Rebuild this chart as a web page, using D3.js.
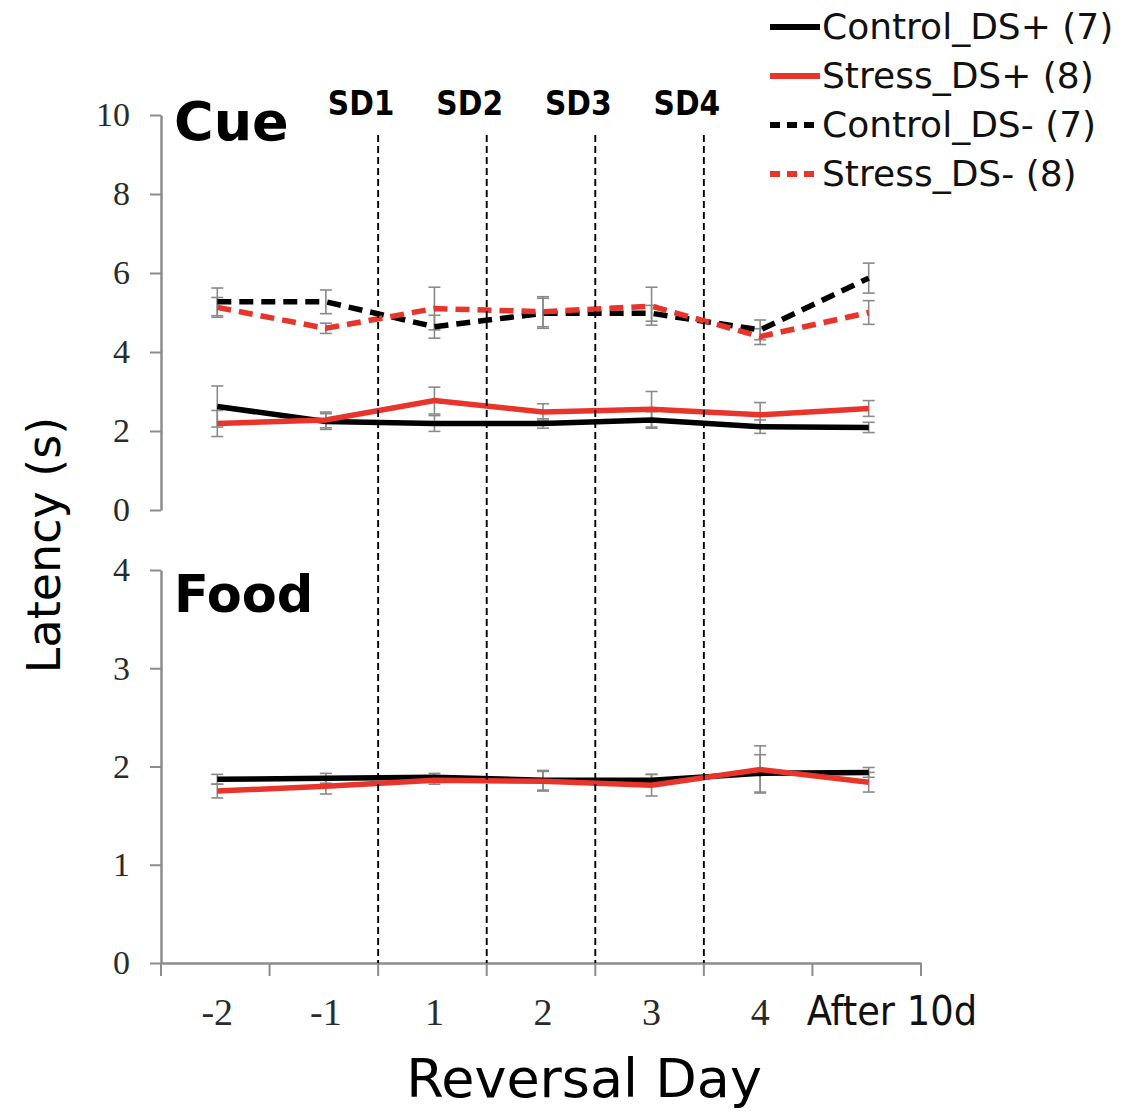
<!DOCTYPE html>
<html>
<head>
<meta charset="utf-8">
<script src="https://d3js.org/d3.v7.min.js"></script>
<style>
    body { margin:0; background:#fff; }
    .tick text { font-family:"Liberation Serif", serif; fill:#2a2a2a; }
</style>
</head>
<body>
<svg id="chart"></svg>
<script>
// reversal days on the x axis
var days = ["-2", "-1", "1", "2", "3", "4", "After 10d"];
var shiftDays = ["SD1", "SD2", "SD3", "SD4"];
var cueTicks = [0, 2, 4, 6, 8, 10];
var foodTicks = [0, 1, 2, 3, 4];

// Cue panel, mean latency and SEM
var cueControlPlus    = [2.62, 2.24, 2.19, 2.19, 2.28, 2.11, 2.09];
var cueControlPlusErr = [0.52, 0.20, 0.20, 0.12, 0.21, 0.17, 0.13];
var cueStressPlus     = [2.19, 2.28, 2.77, 2.48, 2.55, 2.41, 2.57];
var cueStressPlusErr  = [0.33, 0.20, 0.34, 0.21, 0.45, 0.31, 0.20];
var cueControlMinus    = [5.27, 5.27, 4.64, 4.98, 4.98, 4.56, 5.87];
var cueControlMinusErr = [0.35, 0.30, 0.29, 0.38, 0.20, 0.25, 0.38];
var cueStressMinus     = [5.13, 4.60, 5.10, 5.02, 5.16, 4.39, 5.00];
var cueStressMinusErr  = [0.25, 0.13, 0.54, 0.38, 0.48, 0.20, 0.30];

// Food panel
var foodControl    = [1.87, 1.88, 1.89, 1.86, 1.86, 1.93, 1.94];
var foodControlErr = [0.05, 0.05, 0.04, 0.10, 0.06, 0.19, 0.05];
var foodStress     = [1.75, 1.80, 1.86, 1.85, 1.81, 1.97, 1.84];
var foodStressErr  = [0.07, 0.08, 0.04, 0.10, 0.11, 0.24, 0.10];

var legendNames = ["Control_DS+ (7)", "Stress_DS+ (8)", "Control_DS- (7)", "Stress_DS- (8)"];

var red = "#e8352c";
var errGray = "#8a8a8a";
var axisGray = "#8c8c8c";

var screen = {width:1123, height:1111};
var svg = d3.select("#chart")
    .attr("width", screen.width)
    .attr("height", screen.height);

var xScale = d3.scaleBand()
    .domain(days)
    .range([161, 921]);
var xMid = function(d) { return xScale(d) + xScale.bandwidth() / 2 + 2; };

var cueY = d3.scaleLinear().domain([0, 10]).range([510, 115]);
var foodY = d3.scaleLinear().domain([0, 4]).range([963, 570]);

var cueSeries = [
    {vals:cueControlMinus, err:cueControlMinusErr, color:"#000", dash:"14,8"},
    {vals:cueStressMinus, err:cueStressMinusErr, color:red, dash:"14,8"},
    {vals:cueControlPlus, err:cueControlPlusErr, color:"#000", dash:null},
    {vals:cueStressPlus, err:cueStressPlusErr, color:red, dash:null}
];
var foodSeries = [
    {vals:foodControl, err:foodControlErr, color:"#000", dash:null},
    {vals:foodStress, err:foodStressErr, color:red, dash:null}
];

var drawPanel = function(series, yScale, ticks)
{
    var g = svg.append("g");
    // y axis
    var yAxis = d3.axisLeft(yScale)
        .tickValues(ticks)
        .tickFormat(d3.format("d"))
        .tickSize(11)
        .tickSizeOuter(0)
        .tickPadding(20);
    var ag = g.append("g")
        .attr("transform", "translate(161,0)")
        .call(yAxis);
    ag.select(".domain").attr("stroke", axisGray).attr("stroke-width", 2.5);
    ag.selectAll(".tick line").attr("stroke", axisGray).attr("stroke-width", 2);
    ag.selectAll(".tick text").attr("font-size", 34);

    // error bars
    series.forEach(function(s)
    {
        var eb = g.append("g");
        days.forEach(function(d, i)
        {
            var cx = xMid(d);
            var y0 = yScale(s.vals[i] - s.err[i]);
            var y1 = yScale(s.vals[i] + s.err[i]);
            eb.append("line").attr("x1", cx).attr("x2", cx).attr("y1", y0).attr("y2", y1)
                .attr("stroke", errGray).attr("stroke-width", 1.6);
            [y0, y1].forEach(function(yy)
            {
                eb.append("line").attr("x1", cx - 6).attr("x2", cx + 6).attr("y1", yy).attr("y2", yy)
                    .attr("stroke", errGray).attr("stroke-width", 1.6);
            });
        });
    });

    // lines
    var line = d3.line()
        .x(function(v, i) { return xMid(days[i]); })
        .y(function(v) { return yScale(v); });
    series.forEach(function(s)
    {
        g.append("path")
            .attr("d", line(s.vals))
            .attr("fill", "none")
            .attr("stroke", s.color)
            .attr("stroke-width", 5.5)
            .attr("stroke-dasharray", s.dash);
    });
};

drawPanel(cueSeries, cueY, cueTicks);
drawPanel(foodSeries, foodY, foodTicks);

// x axis
var xAxis = d3.axisBottom(xScale)
    .tickValues([])
    .tickSizeOuter(0);
var xg = svg.append("g")
    .attr("transform", "translate(0,963)")
    .call(xAxis);
xg.select(".domain").attr("stroke", axisGray).attr("stroke-width", 2.5);
var boundaries = days.map(function(d) { return xScale(d); }).concat([xScale.range()[1]]);
xg.selectAll(".xtick")
    .data(boundaries)
    .enter()
    .append("line")
    .attr("x1", function(d) { return d; })
    .attr("x2", function(d) { return d; })
    .attr("y1", 0)
    .attr("y2", 13)
    .attr("stroke", axisGray)
    .attr("stroke-width", 2);
var isLast = function(i) { return i == days.length - 1; };
xg.selectAll(".xlab")
    .data(days)
    .enter()
    .append("text")
    .attr("x", function(d, i) { return isLast(i) ? xMid(d) - 62 : xMid(d); })
    .attr("y", 62)
    .attr("text-anchor", function(d, i) { return isLast(i) ? "start" : "middle"; })
    .attr("font-family", function(d, i) { return isLast(i) ? "'DejaVu Sans Condensed', sans-serif" : "'Liberation Serif', serif"; })
    .attr("font-size", function(d, i) { return isLast(i) ? 41 : 38; })
    .attr("fill", function(d, i) { return isLast(i) ? "#111" : "#2a2a2a"; })
    .text(function(d) { return d; });

// shift-day dashed separators
var sdX = days.slice(2, 6).map(function(d) { return xScale(d); });
svg.selectAll(".sdline")
    .data(sdX)
    .enter()
    .append("line")
    .attr("x1", function(d) { return d; })
    .attr("x2", function(d) { return d; })
    .attr("y1", 135)
    .attr("y2", 963)
    .attr("stroke", "#000")
    .attr("stroke-width", 1.9)
    .attr("stroke-dasharray", "7,4");
svg.selectAll(".sdlab")
    .data(shiftDays)
    .enter()
    .append("text")
    .attr("x", function(d, i) { return sdX[i] - 17; })
    .attr("y", 115)
    .attr("text-anchor", "middle")
    .attr("font-family", "'DejaVu Sans Condensed', sans-serif")
    .attr("font-weight", "bold")
    .attr("font-size", 33)
    .text(function(d) { return d; });

// panel titles
svg.append("text").attr("x", 174).attr("y", 140)
    .attr("font-family", "'DejaVu Sans', sans-serif").attr("font-weight", "bold")
    .attr("font-size", 54).text("Cue");
svg.append("text").attr("x", 174).attr("y", 612)
    .attr("font-family", "'DejaVu Sans', sans-serif").attr("font-weight", "bold")
    .attr("font-size", 51).text("Food");

// axis titles
svg.append("text")
    .attr("transform", "translate(60,545) rotate(-90)")
    .attr("text-anchor", "middle")
    .attr("font-family", "'DejaVu Sans', sans-serif")
    .attr("font-size", 46)
    .text("Latency (s)");
svg.append("text")
    .attr("x", 584).attr("y", 1097)
    .attr("text-anchor", "middle")
    .attr("font-family", "'DejaVu Sans', sans-serif")
    .attr("font-size", 54)
    .text("Reversal Day");

// legend
var legendStyle = [
    {color:"#000", dash:null},
    {color:red, dash:null},
    {color:"#000", dash:"10,7"},
    {color:red, dash:"10,7"}
];
var lg = svg.append("g").attr("transform", "translate(770,27)");
legendNames.forEach(function(name, i)
{
    var yy = i * 49;
    lg.append("line")
        .attr("x1", 0).attr("x2", 50).attr("y1", yy).attr("y2", yy)
        .attr("stroke", legendStyle[i].color)
        .attr("stroke-width", 6)
        .attr("stroke-dasharray", legendStyle[i].dash);
    lg.append("text")
        .attr("x", 52).attr("y", yy + 12)
        .attr("font-family", "'DejaVu Sans', sans-serif")
        .attr("font-size", 36)
        .attr("fill", "#111")
        .text(name);
});
</script>
</body>
</html>
